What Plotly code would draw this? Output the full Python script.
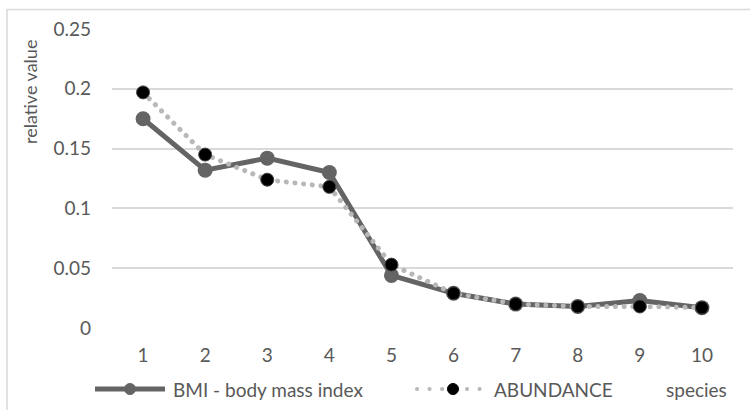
import plotly.graph_objects as go

species = [1, 2, 3, 4, 5, 6, 7, 8, 9, 10]
bmi = [0.175, 0.132, 0.142, 0.130, 0.044, 0.029, 0.020, 0.018, 0.023, 0.017]
abundance = [0.197, 0.145, 0.124, 0.118, 0.053, 0.029, 0.020, 0.018, 0.018, 0.017]
y_ticks = [0, 0.05, 0.1, 0.15, 0.2, 0.25]
y_tick_text = ["0", "0.05", "0.1", "0.15", "0.2", "0.25"]
series_names = ["BMI - body mass index", "ABUNDANCE"]
x_title = "species"
y_title = "relative value"

TEXT = "#595959"
FONT = "Lato"
FS = 19
BMI_COLOR = "#646464"
AB_LINE = "#b8b8b8"

# plot area in pixels
W, H = 750, 410
L, R, T, B = 112, 17, 29, 82
pw, ph = W - L - R, H - T - B


def px(x):
    return (x - L) / pw


def py(y):
    return (H - B - y) / ph


fig = go.Figure()
fig.add_trace(go.Scatter(
    x=species, y=bmi, name=series_names[0],
    mode="lines+markers",
    line=dict(color=BMI_COLOR, width=5),
    marker=dict(color=BMI_COLOR, size=15),
))
fig.add_trace(go.Scatter(
    x=species, y=abundance, name=series_names[1],
    mode="lines+markers",
    line=dict(color=AB_LINE, width=5, dash="5px,4px"),
    marker=dict(color="#000000", size=13, line=dict(color="#444444", width=1)),
))

# outer chart frame (shape 0)
fig.add_shape(type="rect", xref="paper", yref="paper",
              x0=px(7), x1=px(770), y0=py(430), y1=py(9.5),
              line=dict(color="#d9d9d9", width=1.5), fillcolor="rgba(0,0,0,0)",
              layer="below")


def legend_entry(x0, x1, y, color, width, dash, marker_color, text_x, text):
    fig.add_shape(type="line", xref="paper", yref="paper",
                  x0=px(x0), x1=px(x1), y0=py(y), y1=py(y),
                  line=dict(color=color, width=width, dash=dash))
    xc = (x0 + x1) / 2
    fig.add_shape(type="circle", xref="paper", yref="paper",
                  xsizemode="pixel", ysizemode="pixel",
                  xanchor=px(xc), yanchor=py(y),
                  x0=-5.5, x1=5.5, y0=-5.5, y1=5.5,
                  fillcolor=marker_color, line=dict(color=marker_color, width=1))
    fig.add_annotation(text=text, xref="paper", yref="paper",
                       x=px(text_x), y=py(y), xanchor="left", yanchor="middle",
                       showarrow=False, font=dict(family=FONT, size=FS, color=TEXT))


# legend rows: shapes 1-2 (BMI), shapes 3-4 (ABUNDANCE)
legend_entry(95, 165, 389, BMI_COLOR, 5, "solid", BMI_COLOR, 171, series_names[0])
legend_entry(417, 489, 389, AB_LINE, 4, "4px,8px", "#000000", 492, series_names[1])

fig.add_annotation(text=y_title, textangle=-90,
                   xref="paper", yref="paper", x=px(30), y=py(92),
                   xanchor="center", yanchor="middle",
                   showarrow=False, font=dict(family=FONT, size=18, color=TEXT))
fig.add_annotation(text=x_title, xref="paper", yref="paper",
                   x=px(696), y=py(389), xanchor="center", yanchor="middle",
                   showarrow=False, font=dict(family=FONT, size=FS, color=TEXT))

fig.update_layout(
    width=W, height=H,
    margin=dict(l=L, r=R, t=T, b=B, autoexpand=False),
    paper_bgcolor="white", plot_bgcolor="white",
    font=dict(family=FONT, size=FS, color=TEXT),
    showlegend=False,
    xaxis=dict(range=[0.5, 10.5], tickvals=species, showgrid=False,
               zeroline=False, showline=False, ticks="",
               ticklabelstandoff=14),
    yaxis=dict(range=[0, 0.25], tickvals=y_ticks, ticktext=y_tick_text,
               showgrid=True, gridcolor="#d9d9d9", gridwidth=1.5,
               zeroline=False, showline=False, ticks="",
               ticklabelstandoff=20),
)

# turn the dotted ABUNDANCE strokes into round dots
round_dots = """
var gd = document.getElementById('{plot_id}');
function roundDots() {
  var traces = gd.querySelectorAll('.scatterlayer .trace');
  if (traces.length > 1) {
    traces[1].querySelectorAll('path.js-line').forEach(function (p) {
      p.style.strokeLinecap = 'round';
      p.style.strokeDasharray = '0.1px,8.6px';
    });
  }
  gd.querySelectorAll('.shapelayer path[data-index="3"]').forEach(function (p) {
    p.style.strokeLinecap = 'round';
    p.style.strokeDasharray = '0.1px,12.4px';
  });
}
roundDots();
gd.on('plotly_afterplot', roundDots);
"""

fig.write_html("out.html", post_script=round_dots)
